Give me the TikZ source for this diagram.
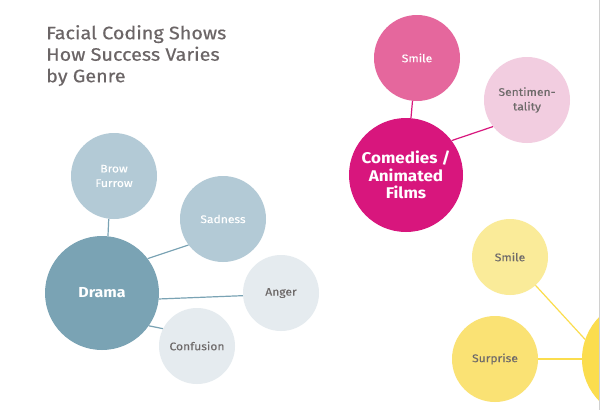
\documentclass[tikz,border=0pt]{standalone}
\usepackage{fontspec}
\setmainfont{Fira Sans}[FakeStretch=1.1]
\newfontfamily\titlefont{Fira Sans}[FakeStretch=1.1,FakeBold=0.5]
\newfontfamily\labfont{Fira Sans}[FakeStretch=1.1,FakeBold=0.25]
\definecolor{titlegray}{HTML}{6B6566}
\definecolor{labgray}{HTML}{6E6A6A}
\definecolor{dramaC}{HTML}{7AA3B4}
\definecolor{blueMid}{HTML}{B3CAD6}
\definecolor{blueLight}{HTML}{E5EBEF}
\definecolor{pinkBig}{HTML}{D8167D}
\definecolor{pinkMid}{HTML}{E5679D}
\definecolor{pinkLight}{HTML}{F2CDE0}
\definecolor{yelBig}{HTML}{FBDD4E}
\definecolor{yelMid}{HTML}{FAE274}
\definecolor{yelLight}{HTML}{FAEB99}
\definecolor{edgegray}{HTML}{D0D0D0}
\begin{document}
\begin{tikzpicture}[x=1pt,y=-1pt,
  bub/.style={circle, inner sep=0pt, align=center, font=\labfont\fontsize{11}{14.5}\selectfont},
  bigbub/.style={bub, minimum size=114pt, text=white},
  midbub/.style={bub, minimum size=86pt},
  smallbub/.style={bub, minimum size=76pt},
  link/.style={line width=1.2pt}]
\useasboundingbox (0,0) rectangle (600,410);
\clip (0,0) rectangle (600,410);
\fill[white] (0,0) rectangle (600,410);

\node[anchor=north west, align=left, inner sep=0pt, text=titlegray,
  font=\titlefont\fontsize{18}{21.5}\selectfont] (title) at (46,25) {Facial Coding Shows\\How Success Varies\\by Genre};

% Drama
\node[bigbub, fill=dramaC, font=\fontsize{14.5}{17.5}\selectfont\bfseries] (drama) at (102,293) {Drama};
\node[midbub, fill=blueMid, text=white] (brow) at (114,176) {Brow\\Furrow};
\node[midbub, fill=blueMid, text=white] (sad) at (223,219) {Sadness};
\node[smallbub, fill=blueLight, text=labgray] (anger) at (281,293) {Anger};
\node[smallbub, fill=blueLight, text=labgray] (conf) at (197,346) {Confusion};
\draw[link, dramaC] (drama.84) -- (brow.263);
\draw[link, dramaC] (drama.37) -- (sad.217);
\draw[link, dramaC] (drama.-6) -- (anger.184);
\draw[link, dramaC] (drama.-35) -- (conf.153);

% Comedies
\node[bigbub, fill=pinkBig, font=\fontsize{15.5}{17.5}\selectfont\bfseries] (com) at (406,175) {Comedies /\\Animated\\Films};
\node[midbub, fill=pinkMid, text=white] (psmile) at (417,58) {Smile};
\node[midbub, fill=pinkLight, text=labgray] (senti) at (527,100) {Sentimen-\\tality};
\draw[link, pinkBig] (com.85) -- (psmile.264);
\draw[link, pinkBig] (com.37) -- (senti.218);

% Yellow group
\node[bub, minimum size=120pt, fill=yelBig] (ybig) at (642,359) {};
\node[smallbub, fill=yelLight, text=labgray] (ysmile) at (510,257) {Smile};
\node[midbub, fill=yelMid, text=labgray] (surp) at (495,359) {Surprise};
\draw[link, yelBig] (ysmile.-48) -- (ybig.161);
\draw[link, yelBig] (surp.0) -- (ybig.180);

% right edge rule
\coordinate (etop) at (599,0);
\coordinate (ebot) at (599,410);
\draw[edgegray, line width=1pt] (etop) -- (ebot);
\end{tikzpicture}
\end{document}
